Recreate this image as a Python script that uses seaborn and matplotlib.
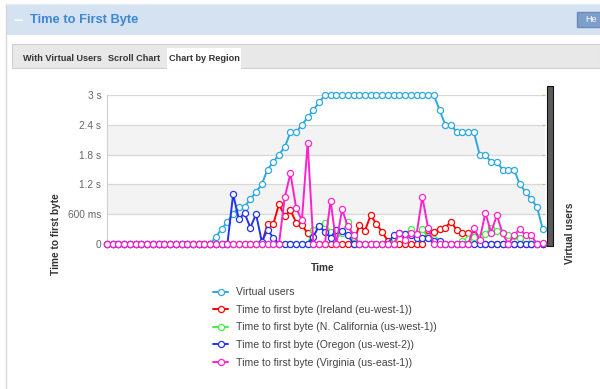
import numpy as np
import pandas as pd
import matplotlib
matplotlib.use("Agg")
import matplotlib.pyplot as plt
import seaborn as sns
from matplotlib.patches import Rectangle

# seconds since test start, one sample per second
seconds = np.arange(77)

virtual_users = [
    0, 0, 0, 0, 0, 0, 0, 0, 0, 0, 0, 0, 0, 0, 0, 0, 0, 0, 0,
    1, 2, 3, 4, 5, 5, 6, 7, 8, 10, 11, 12, 13, 15, 15, 16, 17, 18, 19,
    20, 20, 20, 20, 20, 20, 20, 20, 20, 20, 20, 20, 20, 20, 20, 20, 20, 20, 20, 20,
    18, 16, 16, 15, 15, 15, 15, 12, 12, 11, 11, 10, 10, 10, 8, 7, 6, 5, 2,
]
ireland = [
    0, 0, 0, 0, 0, 0, 0, 0, 0, 0, 0, 0, 0, 0, 0, 0, 0, 0, 0, 0, 0, 0, 0, 0, 0, 0, 0, 0,
    400, 400, 800, 560, 680, 430, 380, 215,
    0, 0, 0, 0, 0, 0, 0, 0,
    380, 270, 580, 400, 240, 60,
    0, 0, 0, 0, 0,
    0, 280, 240, 300, 330, 450, 280, 230, 215, 180,
    40, 0, 0, 0, 0, 0, 0, 0, 0, 0, 0, 0,
]
california = [
    0, 0, 0, 0, 0, 0, 0, 0, 0, 0, 0, 0, 0, 0, 0, 0, 0, 0, 0, 0, 0, 0, 0, 0, 0, 0, 0, 0,
    0, 0, 0, 0, 0, 0, 0, 0,
    280, 370, 420, 240, 200, 215, 450, 150,
    0, 0, 0, 0, 0, 0,
    120, 215, 200, 300, 200, 300, 130, 100,
    0, 0, 0, 0, 60,
    100, 150, 150, 200, 320, 260, 215, 180, 160, 130, 100,
    0, 0, 0,
]
oregon = [
    0, 0, 0, 0, 0, 0, 0, 0, 0, 0, 0, 0, 0, 0, 0, 0, 0, 0, 0, 0, 0, 0,
    1000, 500, 620, 330, 600, 50, 280, 130,
    0, 0, 0, 0, 0, 0,
    150, 370, 240, 130, 280, 260, 180,
    0, 0, 0, 0, 0, 0, 0,
    180, 215, 200, 180, 120, 120, 120, 60, 60,
    0, 0, 0, 0, 0, 0, 0, 0, 0, 0, 0, 0, 0, 0, 0, 0, 0, 0,
]
virginia = [
    0, 0, 0, 0, 0, 0, 0, 0, 0, 0, 0, 0, 0, 0, 0, 0, 0, 0, 0, 0, 0, 0, 0, 0, 0, 0, 0, 0, 0, 0, 0,
    940, 1420, 720, 480, 2040,
    0, 0, 0,
    870, 0, 700, 360, 180,
    0, 0, 0, 0, 0, 0, 0,
    215, 80, 215, 200, 950, 330,
    0, 0, 0, 0, 0, 0, 0,
    320, 80, 630, 230, 580, 215,
    0, 180, 300, 175, 175, 0, 30,
]

regions = [
    "Time to first byte (Ireland (eu-west-1))",
    "Time to first byte (N. California (us-west-1))",
    "Time to first byte (Oregon (us-west-2))",
    "Time to first byte (Virginia (us-east-1))",
]
colors = ["#ff0000", "#44ee44", "#2233ee", "#ff22cc"]
vu_color = "#2ea8e0"

y_ticks = [0, 600, 1200, 1800, 2400, 3000]
y_labels = ["0", "600 ms", "1.2 s", "1.8 s", "2.4 s", "3 s"]
x_ticks = [0, 15, 30, 45, 60, 75]
x_labels = ["0", "15 s", "30 s", "45 s", "1 m", "1 m 15 s"]

df = pd.DataFrame({"t": seconds, regions[0]: ireland, regions[1]: california,
                   regions[2]: oregon, regions[3]: virginia})
long_df = df.melt(id_vars="t", var_name="region", value_name="ms")
vu_df = pd.DataFrame({"t": seconds, "vu": virtual_users})

sns.set_style("white")
plt.rcParams["font.family"] = ["Liberation Sans", "DejaVu Sans"]

W, H = 600, 389
fig = plt.figure(figsize=(W / 100, H / 100), dpi=100)

# page decoration (pixel coordinates)
bg = fig.add_axes([0, 0, 1, 1])
bg.set_xlim(0, W)
bg.set_ylim(H, 0)
bg.axis("off")
bg.add_patch(Rectangle((6, 4), W - 6, 31, facecolor="#d5e2f1", edgecolor="none"))
bg.plot([6, 6], [4, H], color="#d8d8d8", lw=1)
bg.plot([6, W], [4, 4], color="#e4ecf6", lw=1)
bg.text(14, 20, "–", color="white", fontsize=12, fontweight="bold", va="center")
bg.text(30, 20, "Time to First Byte", color="#3b87d6", fontsize=9.3,
        fontweight="bold", va="center")
bg.add_patch(Rectangle((577, 12), 30, 15, facecolor="#7f9fcb", edgecolor="#6a8bb8"))
bg.text(585, 19.5, "He", color="white", fontsize=6.5, va="center")
bg.add_patch(Rectangle((12, 44), W - 12, 24, facecolor="#e8e8e8", edgecolor="#d0d0d0", lw=0.8))
bg.add_patch(Rectangle((167, 48), 74, 21, facecolor="white", edgecolor="none"))
for label, cx in [("With Virtual Users", 62), ("Scroll Chart", 134), ("Chart by Region", 204)]:
    bg.text(cx, 58.5, label, color="#333333", fontsize=6.6, ha="center",
            va="center", fontweight="bold")
# the odd dark bar that sits on the right axis
bg.add_patch(Rectangle((547, 86), 6, 160, facecolor="#5a5a5a", edgecolor="#111111", lw=0.8))

# chart axes
L, R, T, B = 107, 545, 95, 244
rect = [L / W, 1 - B / H, (R - L) / W, (B - T) / H]
ax2 = fig.add_axes(rect)
ax = ax2.twinx()
ax.set_position(rect)
ax.set_zorder(ax2.get_zorder() + 1)
ax.patch.set_visible(False)

# virtual users sit behind, together with the bands and grid
ax2.set_ylim(0, 20)
ax2.set_xlim(0, 76.4)
for lo, hi in [(4, 8), (12, 16)]:
    ax2.axhspan(lo, hi, color="#f3f3f3", zorder=0, lw=0)
for v in [4, 8, 12, 16, 20]:
    ax2.axhline(v, color="#d8d8d8", lw=0.9, zorder=0.5)
n_grid = len(ax2.lines)
sns.lineplot(data=vu_df, x="t", y="vu", ax=ax2, color=vu_color, marker="o",
             markersize=4.4, lw=1.4, legend=False)
vu_line = ax2.lines[n_grid]

sns.lineplot(data=long_df, x="t", y="ms", hue="region", hue_order=regions,
             palette=colors, ax=ax, marker="o", markersize=4.4, lw=1.4, legend=False)
region_lines = ax.lines[:4]

for line in region_lines + [vu_line]:
    line.set_markerfacecolor("white")
    line.set_markeredgecolor(line.get_color())
    line.set_markeredgewidth(0.9)
    line.set_clip_on(False)

ax.set_ylim(0, 3000)
ax.set_xlim(0, 76.4)
ax.yaxis.tick_left()
ax.yaxis.set_label_position("left")
ax.set_yticks(y_ticks)
ax.set_yticklabels(y_labels)
ax.set_xticks(x_ticks)
ax.set_xticklabels(x_labels)
ax.tick_params(axis="both", length=0, labelsize=7.3, colors="#666666")
ax.tick_params(axis="y", pad=4)
ax.tick_params(axis="x", pad=4)
ax.set_xlabel("")
ax.set_ylabel("")
for s in ax.spines.values():
    s.set_visible(False)

ax2.set_xticks([])
ax2.set_yticks([4, 8, 12, 16, 20])
ax2.tick_params(axis="y", left=False, labelleft=False, right=True, labelright=False,
                direction="in", length=2, color="#f5b060")
ax2.set_xlabel("")
ax2.set_ylabel("")
for name, s in ax2.spines.items():
    s.set_visible(name == "left")
ax2.spines["left"].set_color("#cfcfcf")
ax2.spines["left"].set_linewidth(0.8)

fig.text(323 / W, 1 - 268 / H, "Time", fontsize=7.3, fontweight="bold",
         color="#333333", ha="center", va="center")
fig.text(56 / W, 1 - 234 / H, "Time to first byte", fontsize=7.3, fontweight="bold",
         color="#333333", ha="center", va="center", rotation=90)
fig.text(570 / W, 1 - 233 / H, "Virtual users", fontsize=7.3, fontweight="bold",
         color="#333333", ha="center", va="center", rotation=90)

handles = [vu_line] + region_lines
labels = ["Virtual users"] + regions
fig.legend(handles, labels, loc="upper left", bbox_to_anchor=(209 / W, 1 - 283 / H),
           frameon=False, fontsize=7.6, handlelength=1.4, handletextpad=0.8,
           labelspacing=0.72, labelcolor="#444444", borderaxespad=0)

fig.savefig("out.png", dpi=100)
